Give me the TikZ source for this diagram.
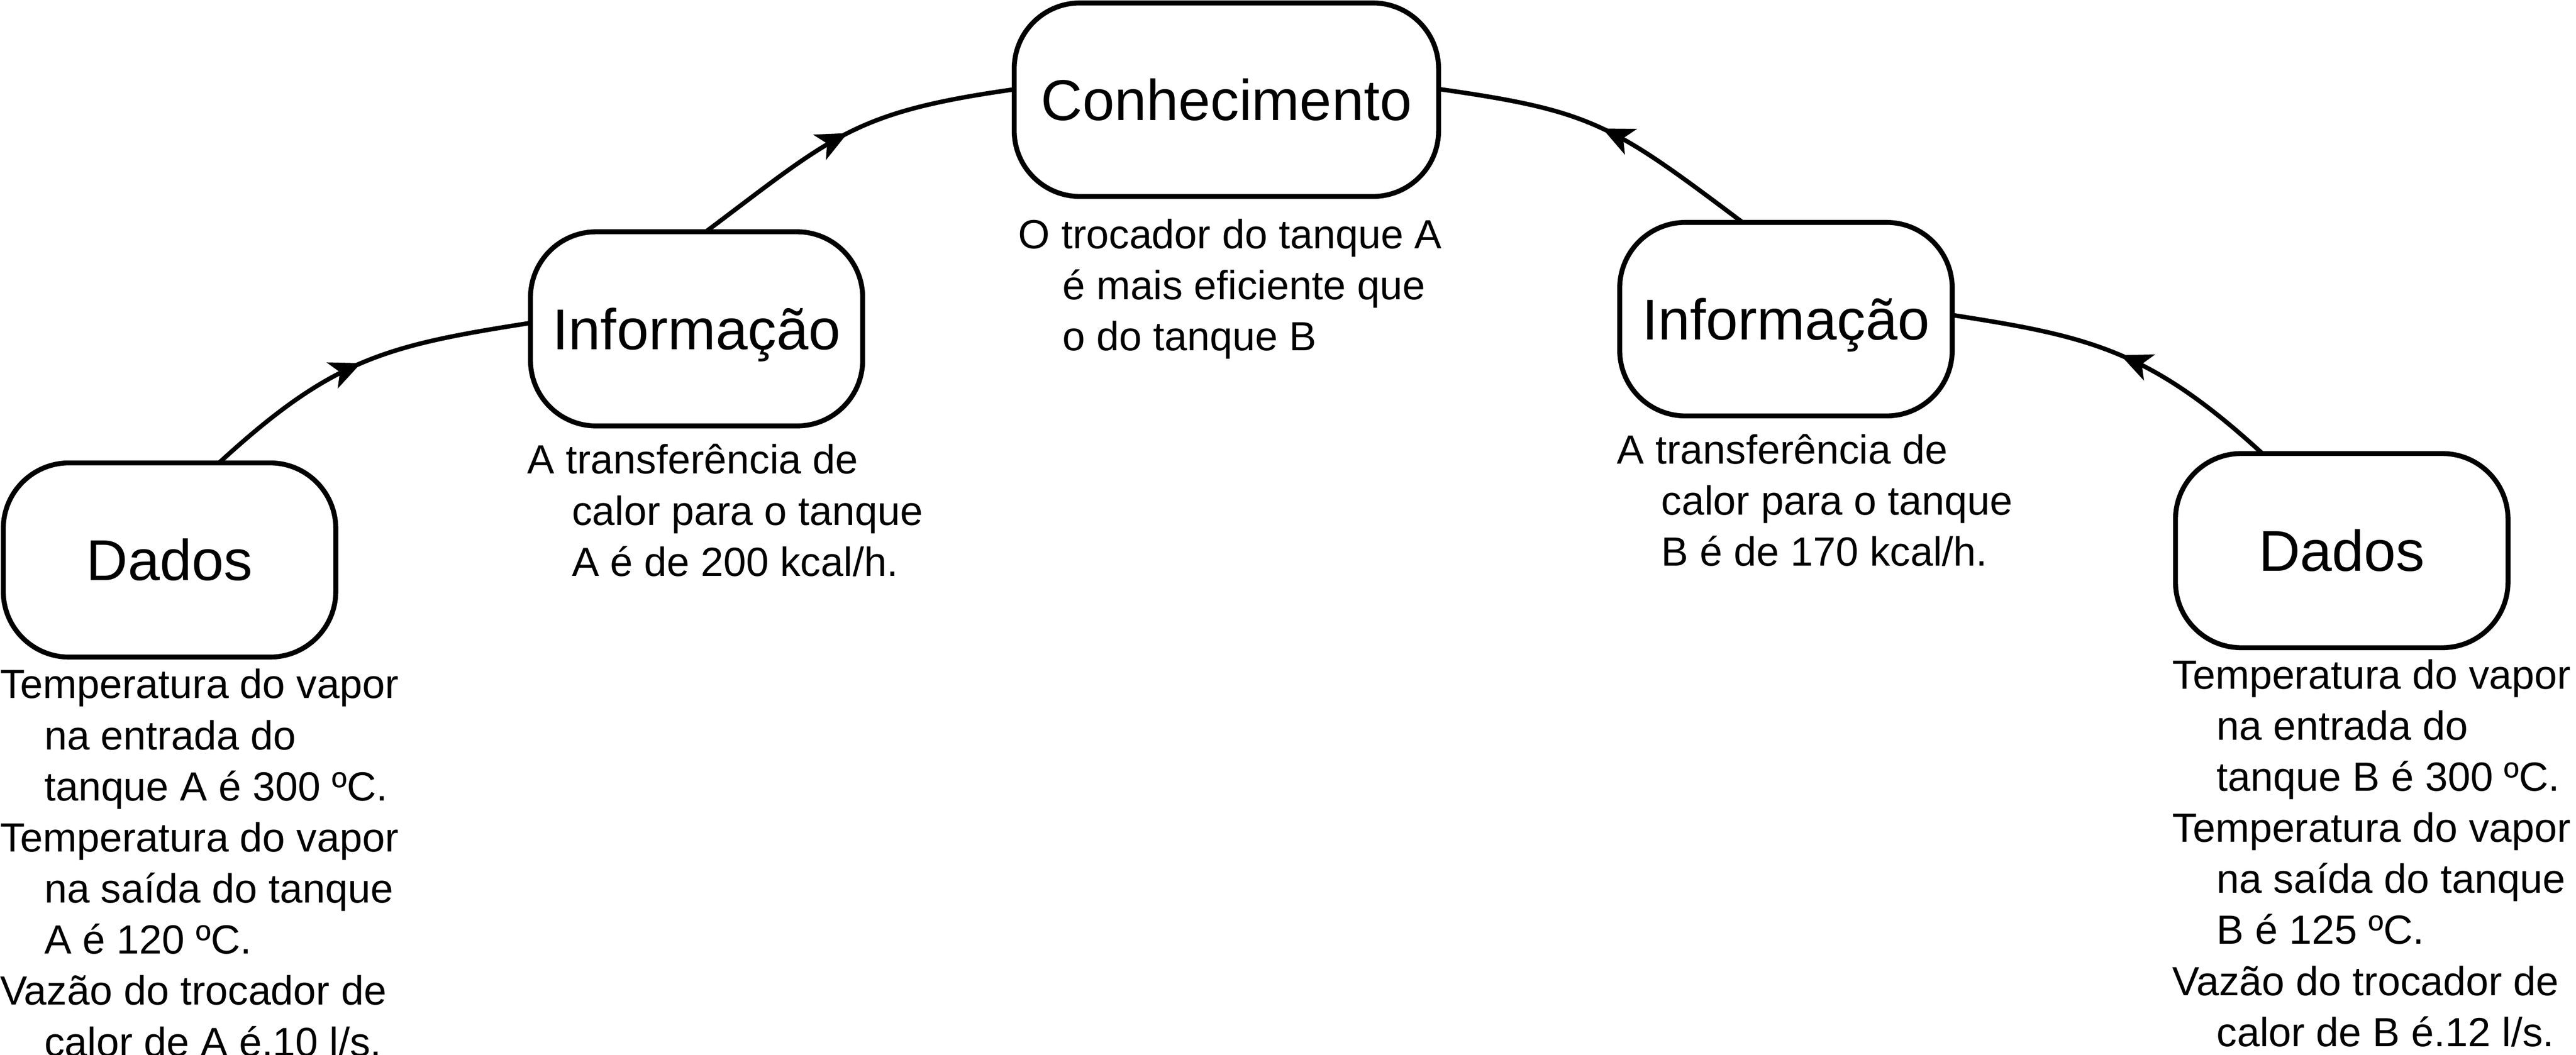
\documentclass[tikz,border=0pt]{standalone}
\usepackage{fontspec}
\setmainfont{Liberation Sans}
\usetikzlibrary{arrows.meta,decorations.markings}
\newcommand\myind{\hspace*{27bp}}
\newcommand\firstline{\rule{0pt}{24bp}}
\begin{document}
\begin{tikzpicture}[x=1bp,y=-1bp,
  box/.style={draw, line width=3bp, rounded corners=40bp, minimum width=202.4bp,
    minimum height=118.2bp, inner sep=0pt, outer sep=0pt,
    font=\fontsize{35bp}{42bp}\selectfont, text height=25bp, text depth=0bp},
  note/.style={anchor=north west, align=left, inner sep=0pt, outer sep=0pt,
    font=\fontsize{24.8bp}{31.1bp}\selectfont},
  flow/.style={line width=2.7bp, postaction={decorate},
    decoration={markings, mark=at position 0.5 with
      {\arrow{Stealth[length=19bp,width=17bp,inset=5bp]}}}}
]
\fill[white] (0,0) rectangle (1568,642.2);
\useasboundingbox (0,0) rectangle (1568,642.2);

% boxes
\node[box] (dL) at (103.2,340.9) {Dados};
\node[box, minimum width=202.2bp] (iL) at (424,200.2) {Informação};
\node[box, minimum width=258.3bp, minimum height=117.8bp] (cK) at (746.5,60.7) {Conhecimento};
\node[box, minimum height=117.8bp] (iR) at (1087.1,194.3) {Informação};
\node[box] (dR) at (1425.4,335.2) {Dados};

% texts
\node[note] (tdL) at (0,401.2) {\firstline Temperatura do vapor\\
\myind na entrada do\\
\myind tanque A é 300 ºC.\\
Temperatura do vapor\\
\myind na saída do tanque\\
\myind A é 120 ºC.\\
Vazão do trocador de\\
\myind calor de A é.10 l/s.};

\node[note] (tiL) at (321.1,264.5) {\firstline A transferência de\\
\myind calor para o tanque\\
\myind A é de 200 kcal/h.};

\node[note] (tcK) at (619.9,127.3) {\firstline O trocador do tanque A\\
\myind é mais eficiente que\\
\myind o do tanque B};

\node[note] (tiR) at (984.3,258.3) {\firstline A transferência de\\
\myind calor para o tanque\\
\myind B é de 170 kcal/h.};

\node[note] (tdR) at (1322.3,395.3) {\firstline Temperatura do vapor\\
\myind na entrada do\\
\myind tanque B é 300 ºC.\\
Temperatura do vapor\\
\myind na saída do tanque\\
\myind B é 125 ºC.\\
Vazão do trocador de\\
\myind calor de B é.12 l/s.};

% connectors
\draw[flow] ([xshift=30.1bp]dL.north) .. controls +(68.7,-63.0) and +(-89.1,13.9) .. ([yshift=3.6bp]iL.west);
\draw[flow] ([xshift=5.6bp]iL.north) .. controls +(78.1,-58.6) and +(-98,13.9) .. ([yshift=6.3bp]cK.west);
\draw[flow] ([xshift=-48.3bp]dR.north) .. controls +(-68.8,-63.1) and +(83.5,13.0) .. ([yshift=2.5bp]iR.east);
\draw[flow] ([xshift=-26.4bp]iR.north) .. controls +(-79.4,-59.6) and +(94,13.3) .. ([yshift=6.5bp]cK.east);
\end{tikzpicture}
\end{document}
